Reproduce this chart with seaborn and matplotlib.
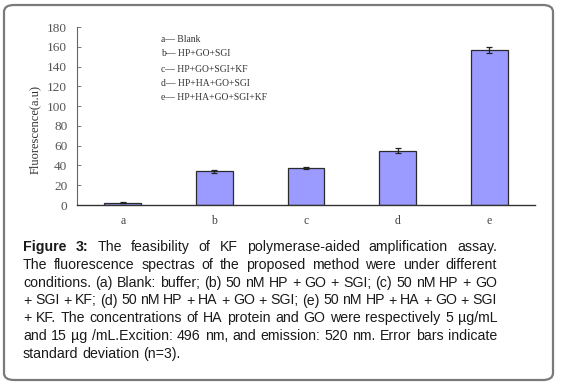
import matplotlib
matplotlib.use("Agg")
import matplotlib.pyplot as plt
import seaborn as sns
import pandas as pd
from matplotlib.patches import FancyBboxPatch

categories = ["a", "b", "c", "d", "e"]
values = [2.5, 34, 37, 55, 157]
errors = [0.5, 1.5, 1.0, 2.5, 3.0]
yticks = [0, 20, 40, 60, 80, 100, 120, 140, 160, 180]
legend_lines = ["a\u2014 Blank", "b\u2014 HP+GO+SGI", "c\u2014 HP+GO+SGI+KF",
                "d\u2014 HP+HA+GO+SGI", "e\u2014 HP+HA+GO+SGI+KF"]
caption_lines = [
    "Figure 3: The feasibility of KF polymerase-aided amplification assay.",
    "The fluorescence spectras of the proposed method were under different",
    "conditions. (a) Blank: buffer; (b) 50 nM HP + GO + SGI; (c) 50 nM HP + GO",
    "+ SGI + KF; (d) 50 nM HP + HA + GO + SGI; (e) 50 nM HP + HA + GO + SGI",
    "+ KF. The concentrations of HA protein and GO were respectively 5 \u00b5g/mL",
    "and 15 \u00b5g /mL.Excition: 496 nm, and emission: 520 nm. Error bars indicate",
    "standard deviation (n=3).",
]

sns.set_theme(style="white")
plt.rcParams['font.family'] = ['Liberation Serif', 'DejaVu Serif']

W, H = 563, 384
fig = plt.figure(figsize=(W / 100, H / 100), dpi=100)
fig.patch.set_facecolor("white")

# rounded frame
frame = FancyBboxPatch((4 / W, 4 / H), (553 - 4) / W, (379 - 4) / H,
                       boxstyle="round,pad=0,rounding_size=0.018",
                       transform=fig.transFigure, fill=False,
                       edgecolor="#7a7a7a", linewidth=1.6)
fig.patches.append(frame)

ax = fig.add_axes([77 / W, 1 - 205 / H, (535 - 77) / W, (205 - 27) / H])
df = pd.DataFrame({"cat": categories, "val": values})
sns.barplot(data=df, x="cat", y="val", ax=ax, color="#9b9bff", saturation=1,
            width=0.4, edgecolor="#2b2b2b", linewidth=0.9, errorbar=None)
ax.errorbar(range(len(categories)), values, yerr=errors, fmt="none",
            ecolor="#222222", elinewidth=0.9, capsize=2.5, capthick=0.9)
ax.set_xlim(-0.5, 4.5)
ax.set_ylim(0, 180)
ax.set_yticks(yticks)
ax.set_yticklabels([str(t) for t in yticks])
ax.set_xlabel("")
ax.set_ylabel("")
fig.text(35 / W, 1 - 129 / H, "Fluorescence(a.u)", rotation=90, fontsize=9,
         color="#333333", ha="center", va="center")
for s in ["top", "right"]:
    ax.spines[s].set_visible(False)
ax.spines["left"].set_color("#666666")
ax.spines["left"].set_linewidth(0.8)
ax.spines["bottom"].set_color("#333333")
ax.spines["bottom"].set_linewidth(1.0)
ax.tick_params(axis="y", which="major", left=True, direction="in", length=3,
               width=0.6, color="#666666", labelsize=9.5, labelcolor="#555555",
               pad=7)
ax.tick_params(axis="x", which="major", bottom=False, labelsize=8.5,
               labelcolor="#444444", pad=1.5)
ax.set_facecolor("white")
ax.patch.set_alpha(0)

# legend-like text block
ys = [39, 54, 69, 83, 98]
for t, y in zip(legend_lines, ys):
    fig.text(161 / W, 1 - y / H, t, fontsize=6.9, color="#333333",
             va="center", ha="left", family=['Liberation Serif', 'DejaVu Serif'])

# caption, justified
left_px, right_px = 23, 497
line_y = [247, 265, 283, 300.5, 318, 336, 354]
fs = 10.2
fig.canvas.draw()
renderer = fig.canvas.get_renderer()
sans = ['Liberation Sans', 'DejaVu Sans']
for i, (line, y) in enumerate(zip(caption_lines, line_y)):
    words = line.split(" ")
    items = []
    for j, w in enumerate(words):
        bold = (i == 0 and j < 2)
        t = fig.text(0, 1 - y / H, w, fontsize=fs, color="#1a1a1a",
                     fontweight="bold" if bold else "normal",
                     va="center", ha="left", family=sans)
        bb = t.get_window_extent(renderer)
        items.append((t, bb.width))
    total = sum(wd for _, wd in items)
    if i < len(caption_lines) - 1 and len(items) > 1:
        gap = (right_px - left_px - total) / (len(items) - 1)
    else:
        sp = fig.text(0, 0, "a a", fontsize=fs, family=sans)
        sp2 = fig.text(0, 0, "aa", fontsize=fs, family=sans)
        gap = sp.get_window_extent(renderer).width - sp2.get_window_extent(renderer).width
        sp.remove(); sp2.remove()
    x = left_px
    for t, wd in items:
        t.set_x(x / W)
        x += wd + gap

fig.savefig("out.png", dpi=100, facecolor="white")
